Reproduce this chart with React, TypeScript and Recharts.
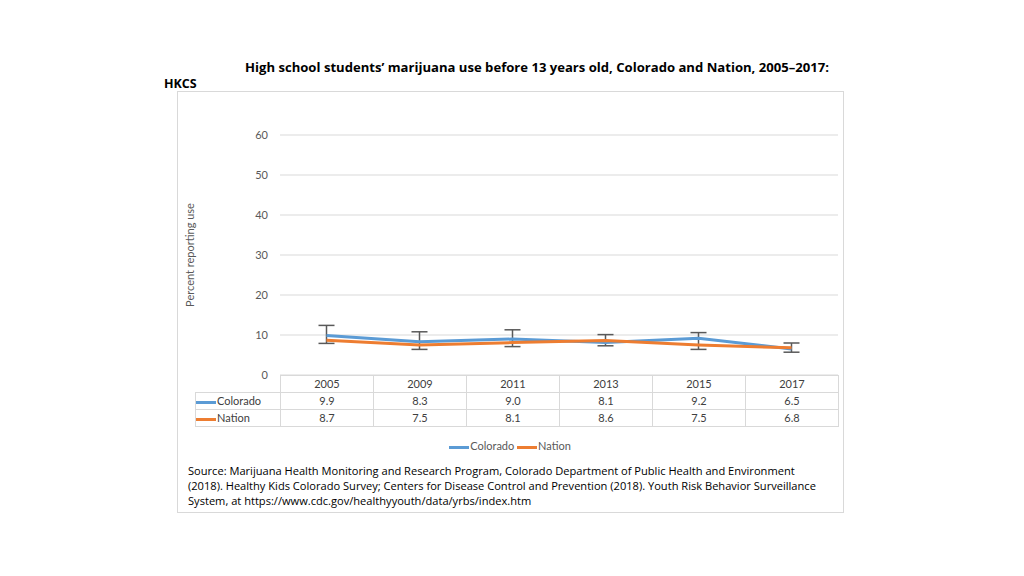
import React from 'react';
import { CartesianGrid, ErrorBar, Line, LineChart, XAxis, YAxis } from 'recharts';

// values
const years = ['2005', '2009', '2011', '2013', '2015', '2017'];
const colorado = [9.9, 8.3, 9.0, 8.1, 9.2, 6.5];
const nation = [8.7, 7.5, 8.1, 8.6, 7.5, 6.8];
// [below, above] confidence spread around Colorado
const coloradoErr: [number, number][] = [
    [2.0, 2.5],
    [1.9, 2.5],
    [1.9, 2.3],
    [0.8, 2.0],
    [2.8, 1.4],
    [0.8, 1.5],
];
const yTicks = [0, 10, 20, 30, 40, 50, 60];
const sourceLines = [
    'Source: Marijuana Health Monitoring and Research Program, Colorado Department of Public Health and Environment',
    '(2018). Healthy Kids Colorado Survey; Centers for Disease Control and Prevention (2018). Youth Risk Behavior Surveillance',
    'System, at https://www.cdc.gov/healthyyouth/data/yrbs/index.htm',
];

const BLUE = '#5b9bd5';
const ORANGE = '#ed7d31';
const FONT = 'Lato, "Open Sans", sans-serif';
const TEXT_FONT = '"Open Sans", sans-serif';

const data = years.map((year, i) => ({
    year,
    colorado: colorado[i],
    nation: nation[i],
    coErr: coloradoErr[i],
}));

const cell: React.CSSProperties = {
    border: '1px solid #d9d9d9',
    textAlign: 'center',
    height: 16,
    padding: 0,
    width: 92,
    lineHeight: '16px',
};

const Swatch = ({ color }: { color: string }) => (
    <span
        style={{
            display: 'inline-block',
            width: 20,
            height: 3,
            background: color,
            verticalAlign: 'middle',
            marginRight: 1,
        }}
    />
);

const App: React.FC = () => {
    return (
        <div
            style={{
                position: 'absolute',
                left: 0,
                top: 0,
                width: 1024,
                height: 576,
                background: '#fff',
                fontFamily: FONT,
                color: '#404040',
            }}
        >
            <div
                style={{
                    position: 'absolute',
                    left: 245,
                    top: 58,
                    whiteSpace: 'nowrap',
                    fontWeight: 700,
                    fontSize: 13.1,
                    fontFamily: TEXT_FONT,
                    color: '#000',
                }}
            >
                High school students’ marijuana use before 13 years old, Colorado and Nation, 2005–2017:
            </div>
            <div
                style={{
                    position: 'absolute',
                    left: 164,
                    top: 75,
                    fontWeight: 700,
                    fontSize: 12.5,
                    fontFamily: TEXT_FONT,
                    color: '#000',
                }}
            >
                HKCS
            </div>

            {/* frame */}
            <div
                style={{
                    position: 'absolute',
                    left: 177,
                    top: 91,
                    width: 665,
                    height: 420,
                    border: '1px solid #d9d9d9',
                }}
            />

            <div
                style={{
                    position: 'absolute',
                    left: 189,
                    top: 255,
                    transform: 'translate(-50%, -50%) rotate(-90deg)',
                    fontSize: 11,
                    color: '#595959',
                    whiteSpace: 'nowrap',
                }}
            >
                Percent reporting use
            </div>

            <div style={{ position: 'absolute', left: 200, top: 120 }}>
                <LineChart
                    width={650}
                    height={265}
                    data={data}
                    margin={{ top: 15, right: 12, bottom: 10, left: 0 }}
                >
                    <CartesianGrid vertical={false} stroke="#d9d9d9" />
                    <XAxis dataKey="year" hide padding={{ left: 46.5, right: 46.5 }} />
                    <YAxis
                        width={80}
                        domain={[0, 60]}
                        ticks={yTicks}
                        axisLine={false}
                        tickLine={false}
                        tickSize={0}
                        tickMargin={12}
                        tick={{ fontSize: 11, fill: '#595959', fontFamily: FONT }}
                    />
                    <Line
                        type="linear"
                        dataKey="colorado"
                        stroke={BLUE}
                        strokeWidth={3}
                        dot={false}
                        isAnimationActive={false}
                    >
                        <ErrorBar dataKey="coErr" direction="y" width={8} strokeWidth={1.5} stroke="#595959" />
                    </Line>
                    <Line
                        type="linear"
                        dataKey="nation"
                        stroke={ORANGE}
                        strokeWidth={3}
                        dot={false}
                        isAnimationActive={false}
                    />
                </LineChart>
            </div>

            {/* data table under the plot */}
            <table
                style={{
                    position: 'absolute',
                    left: 195,
                    top: 375,
                    borderCollapse: 'collapse',
                    fontSize: 11,
                    color: '#404040',
                    fontFamily: FONT,
                }}
            >
                <tbody>
                    <tr>
                        <td style={{ width: 84, padding: 0 }} />
                        {years.map((y) => (
                            <td key={y} style={cell}>
                                {y}
                            </td>
                        ))}
                    </tr>
                    <tr>
                        <td style={{ ...cell, width: 84, textAlign: 'left' }}>
                            <Swatch color={BLUE} />
                            Colorado
                        </td>
                        {colorado.map((v, i) => (
                            <td key={i} style={cell}>
                                {v.toFixed(1)}
                            </td>
                        ))}
                    </tr>
                    <tr>
                        <td style={{ ...cell, width: 84, textAlign: 'left' }}>
                            <Swatch color={ORANGE} />
                            Nation
                        </td>
                        {nation.map((v, i) => (
                            <td key={i} style={cell}>
                                {v.toFixed(1)}
                            </td>
                        ))}
                    </tr>
                </tbody>
            </table>

            <div
                style={{
                    position: 'absolute',
                    left: 180,
                    top: 439,
                    width: 660,
                    textAlign: 'center',
                    fontSize: 11,
                    color: '#595959',
                }}
            >
                <Swatch color={BLUE} />
                Colorado <Swatch color={ORANGE} />
                Nation
            </div>

            <div
                style={{
                    position: 'absolute',
                    left: 188,
                    top: 463,
                    fontSize: 11.1,
                    lineHeight: '15px',
                    fontFamily: TEXT_FONT,
                    color: '#000',
                    whiteSpace: 'nowrap',
                }}
            >
                {sourceLines.map((l, i) => (
                    <div key={i}>{l}</div>
                ))}
            </div>
        </div>
    );
};

export default App;
